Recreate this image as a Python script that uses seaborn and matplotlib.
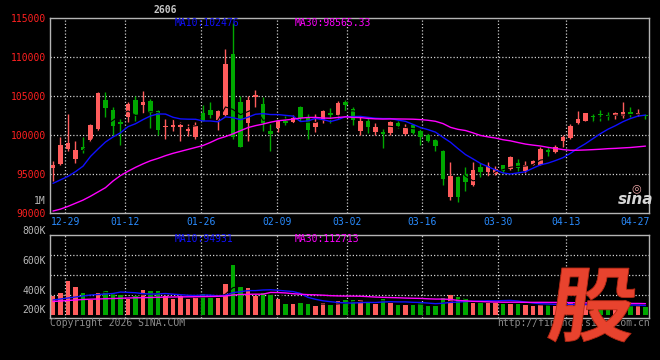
# ==========================================
# Sina-style K-line chart with volume panel
# ==========================================
import numpy as np
import pandas as pd
import matplotlib
matplotlib.use("Agg")
import matplotlib.pyplot as plt
import matplotlib.transforms as mtransforms
from matplotlib.textpath import TextPath
from matplotlib.patches import PathPatch
from matplotlib.font_manager import FontProperties
import seaborn as sns

# ------------------------------------------
# Data (prices, volume in K)
# ------------------------------------------
opens = [95770, 96320, 98250, 96970, 98500, 99400, 100810, 104530, 103250, 101710,
         102270, 104530, 103800, 104400, 103120, 100980, 101070, 101030, 100470, 99700,
         102860, 103250, 101840, 102520, 110430, 104270, 101540, 104910, 104020, 100470,
         100900, 101840, 101670, 103590, 102350, 100980, 101840, 102820, 102610, 104230,
         103380, 100470, 101750, 100340, 100380, 100210, 101500, 100130, 101330, 100560,
         100040, 99400, 97990, 92010, 94570, 95000, 93550, 95940, 95210, 95000,
         96110, 95640, 96410, 95340, 96200, 96200, 98120, 97820, 99190, 99620,
         101500, 101840, 102390, 102740, 102520, 102480, 102480, 102910, 102610, 102610]
highs = [96620, 99790, 102740, 99270, 99790, 101410, 105560, 105560, 103630, 102090,
         104230, 105000, 105680, 104620, 103250, 102050, 102090, 101670, 101450, 101670,
         103890, 104190, 103210, 111070, 114320, 105040, 104950, 105770, 104830, 101450,
         101900, 102390, 102610, 103760, 102690, 102690, 103250, 103460, 104400, 104530,
         103630, 102390, 102350, 101540, 100810, 101840, 101840, 101410, 101410, 100900,
         100260, 99530, 98120, 96500, 94700, 95900, 96500, 96410, 96580, 95980,
         96200, 97270, 96970, 96620, 96840, 98460, 98420, 98760, 100040, 101450,
         103120, 102820, 102690, 103250, 102910, 102910, 104230, 103630, 103380, 102740]
lows = [94060, 96200, 97910, 96410, 97690, 99060, 100560, 102270, 99960, 98760,
        101620, 101840, 102780, 100900, 99960, 99530, 100470, 99190, 99830, 99490,
        101750, 102220, 100600, 102390, 99500, 98400, 99270, 103630, 100470, 97910,
        100380, 101330, 101540, 101750, 99530, 100380, 101540, 101540, 102180, 103040,
        101240, 100040, 100210, 99960, 98330, 99960, 100900, 99960, 100130, 98680,
        99100, 97910, 93630, 91710, 91370, 92860, 93420, 94570, 94790, 94910,
        95130, 95560, 95430, 95130, 96110, 96110, 97270, 97690, 98420, 99490,
        101410, 101750, 101670, 101750, 101970, 102050, 102180, 102310, 102480, 102090]
closes = [96200, 98760, 98930, 98120, 98120, 101330, 105430, 103420, 101110, 101450,
          104020, 102520, 104190, 102820, 100680, 101200, 101330, 101330, 100730, 101330,
          101840, 102520, 103120, 109150, 99740, 98500, 104530, 105130, 101540, 100130,
          101840, 101500, 102180, 102180, 100600, 101620, 103040, 102610, 104100, 103800,
          101970, 101750, 100980, 101070, 100130, 101620, 101110, 100980, 100210, 99740,
          99270, 98550, 94320, 94740, 92010, 93970, 95560, 95210, 95980, 95680,
          95340, 97140, 95770, 96200, 96620, 98210, 97820, 98460, 99700, 101200,
          102090, 102780, 102270, 102610, 102270, 102780, 102910, 102520, 102820, 102480]
volumes = [190, 223, 343, 283, 223, 150, 223, 243, 217, 200,
           157, 190, 250, 240, 240, 190, 157, 190, 157, 177,
           210, 173, 173, 310, 500, 283, 267, 190, 217, 200,
           157, 110, 110, 123, 107, 90, 117, 100, 140, 150,
           150, 150, 133, 110, 160, 117, 100, 100, 100, 133,
           90, 90, 175, 198, 185, 175, 125, 125, 125, 125,
           115, 108, 115, 98, 91, 98, 98, 95, 105, 128,
           112, 102, 92, 97, 87, 92, 97, 92, 92, 77]

# moving averages before enough candles exist on screen
ma10_head = [93800, 94250, 94700, 95300, 96000, 97250, 98200, 99100, 99750]
ma30_head = [90250, 90500, 90850, 91250, 91650, 92150, 92700, 93250, 94100, 94800,
             95350, 95850, 96300, 96700, 97000, 97350, 97650, 97900, 98150, 98400,
             98650, 99050, 99500, 99800, 100150, 100550, 100950, 101200, 101400]
vol_ma10_head = [150, 160, 170, 180, 190, 200, 205, 210, 215]
vol_ma30_head = [135, 140, 145, 150, 155, 158, 160, 163, 165, 167,
                 170, 172, 173, 175, 177, 179, 180, 181, 182, 183,
                 184, 185, 187, 190, 200, 205, 207, 208, 208]

date_labels = ["12-29", "01-12", "01-26", "02-09", "03-02", "03-16", "03-30", "04-13", "04-27"]
date_pos = [1.64, 9.64, 19.77, 29.91, 39.16, 49.24, 59.37, 68.44, 77.6]

price_ticks = [90000, 95000, 100000, 105000, 110000, 115000]
vol_grid = [200, 400, 600]

# ------------------------------------------
# Build table
# ------------------------------------------
df = pd.DataFrame({"open": opens, "high": highs, "low": lows,
                   "close": closes, "volume": volumes})
df["idx"] = np.arange(len(df))
df["up"] = df["close"] >= df["open"]

df["ma5"] = df["close"].rolling(5).mean()
df["ma10"] = df["close"].rolling(10).mean()
df.loc[:8, "ma10"] = ma10_head
df["ma30"] = df["close"].rolling(30).mean()
df.loc[:28, "ma30"] = ma30_head
df["vma5"] = df["volume"].rolling(5).mean()
df["vma10"] = df["volume"].rolling(10).mean()
df.loc[:8, "vma10"] = vol_ma10_head
df["vma30"] = df["volume"].rolling(30).mean()
df.loc[:28, "vma30"] = vol_ma30_head

# ------------------------------------------
# Style
# ------------------------------------------
sns.set_style("dark", {"axes.facecolor": "black", "figure.facecolor": "black"})
plt.rcParams["font.family"] = ["DejaVu Sans Mono", "Noto Sans CJK SC"]

RED = "#ff5c5c"
GREEN = "#00a800"
BLUE = "#1010ff"
MAGENTA = "#ff00ff"
GRID = "#cfcfcf"
FRAME = "#b4b4b4"
W, H = 660, 360

fig = plt.figure(figsize=(6.6, 3.6), dpi=100, facecolor="black")
ax = fig.add_axes([50 / W, 1 - 213 / H, 599 / W, 195 / H])
axv = fig.add_axes([50 / W, 1 - 318 / H, 599 / W, 83 / H])

n = len(df)
dots = (0, (1, 1.6))

for a in (ax, axv):
    a.set_facecolor("black")
    a.set_xlim(-0.4, n - 1 + 0.47)
    for p in date_pos[:-1]:
        a.axvline(p, color=GRID, lw=0.9, ls=dots, zorder=0)
    for s in a.spines.values():
        s.set_color(FRAME)
        s.set_linewidth(1)
    a.tick_params(length=0)
    a.grid(False)

colors = np.where(df["up"], RED, GREEN)

# ==========================================
# 1. Price candles
# ==========================================
for h in price_ticks[1:-1]:
    ax.axhline(h, color=GRID, lw=0.9, ls=dots, zorder=0)

body_low = np.minimum(df["open"], df["close"])
body_h = np.maximum((df["close"] - df["open"]).abs(), 90)
ax.vlines(df["idx"], df["low"], df["high"], colors=colors, lw=1, zorder=2)
ax.bar(df["idx"], body_h, bottom=body_low, width=0.66, color=colors,
       linewidth=0, zorder=3)

sns.lineplot(x=df["idx"], y=df["ma5"], ax=ax, color="black", lw=0.8, zorder=4)
sns.lineplot(x=df["idx"], y=df["ma10"], ax=ax, color=BLUE, lw=1, zorder=4)
sns.lineplot(x=df["idx"], y=df["ma30"], ax=ax, color=MAGENTA, lw=1, zorder=4)

ax.set_ylim(90000, 115000)
ax.set_yticks(price_ticks)
ax.set_yticklabels([str(t) for t in price_ticks], color="#ff2020", fontsize=7)
ax.tick_params(axis="y", pad=3)
ax.set_xticks(date_pos)
ax.set_xticklabels(date_labels, color="#2a8cff", fontsize=7)
ax.tick_params(axis="x", pad=3)
ax.set_xlabel("")
ax.set_ylabel("")

fig.text(175 / W, 1 - 23 / H, "MA10:102476", color=BLUE, fontsize=7, va="center")
fig.text(295 / W, 1 - 23 / H, "MA30:98565.33", color=MAGENTA, fontsize=7, va="center")

# ==========================================
# 2. Volume bars
# ==========================================
for h in vol_grid:
    axv.axhline(h, color=GRID, lw=0.9, ls=dots, zorder=0)
axv.bar(df["idx"], df["volume"], width=0.66, color=colors, linewidth=0, zorder=2)
sns.lineplot(x=df["idx"], y=df["vma5"], ax=axv, color="black", lw=0.8, zorder=3)
sns.lineplot(x=df["idx"], y=df["vma10"], ax=axv, color=BLUE, lw=1, zorder=3)
sns.lineplot(x=df["idx"], y=df["vma30"], ax=axv, color=MAGENTA, lw=1, zorder=3)
axv.set_ylim(-30, 800)
axv.set_xticks([])
axv.set_yticks([])
axv.set_xlabel("")
axv.set_ylabel("")

fig.text(175 / W, 1 - 239 / H, "MA10:94931", color=BLUE, fontsize=7, va="center")
fig.text(295 / W, 1 - 239 / H, "MA30:112713", color=MAGENTA, fontsize=7, va="center")

# volume scale labels sit where Sina puts them (not on the grid lines)
for lab, y in [("800K", 231), ("600K", 261), ("400K", 291), ("200K", 310), ("1M", 201)]:
    fig.text(46 / W, 1 - y / H, lab, color="#b8b8b8", fontsize=7, ha="right", va="center")

# ------------------------------------------
# Decorations
# ------------------------------------------
fig.text(165 / W, 1 - 10 / H, "2606", color="#c8c8c8", fontsize=7, ha="center",
         va="center", fontweight="bold")
fig.text(50 / W, 1 - 323 / H, "Copyright 2026 SINA.COM", color="#8c8c8c", fontsize=7,
         va="center")
fig.text(650 / W, 1 - 323 / H, "http://finance.sina.com.cn", color="#8c8c8c", fontsize=7,
         va="center", ha="right")
fig.text(636 / W, 1 - 200 / H, "sina", color="#d6d6d6", fontsize=11, ha="center",
         va="center", fontweight="bold", style="italic", family="DejaVu Sans")
fig.text(636 / W, 1 - 188 / H, "◎", color="#f0a8a8", fontsize=8, ha="center",
         va="center", family="DejaVu Sans")

# big "股" logo, stretched and slanted
tp = TextPath((0, 0), "股", size=1, prop=FontProperties(family="Noto Sans CJK SC", weight="bold"))
bb = tp.get_extents()
x0, x1, y0, y1 = 547, 640, 268, 342
slant = 0.12
tr = (mtransforms.Affine2D()
      .translate(-bb.x0, -bb.y0)
      .scale(1 / bb.width, 1 / bb.height)
      .skew(np.arctan(slant), 0)
      .scale((x1 - x0) / (W * (1 + slant)), (y1 - y0) / H)
      .translate(x0 / W, 1 - y1 / H))
logo = PathPatch(tr.transform_path(tp), transform=fig.transFigure,
                 facecolor="#e8432e", edgecolor="#b52814", lw=0.6, zorder=10)
fig.add_artist(logo)

fig.savefig("out.png", dpi=100, facecolor="black")
